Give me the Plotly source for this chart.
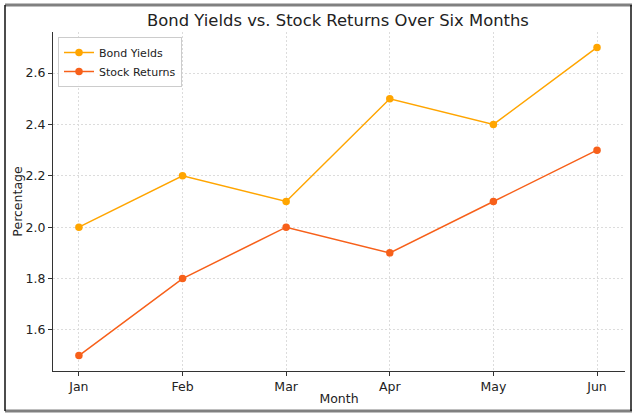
import plotly.graph_objects as go

months = ["Jan", "Feb", "Mar", "Apr", "May", "Jun"]
bond_yields = [2.0, 2.2, 2.1, 2.5, 2.4, 2.7]
stock_returns = [1.5, 1.8, 2.0, 1.9, 2.1, 2.3]
y_ticks = [1.6, 1.8, 2.0, 2.2, 2.4, 2.6]

W, H = 638, 418
L, R, T, B = 53, 13, 32, 47
pw, ph = W - L - R, H - T - B

def px(x):
    return (x - L) / pw

def py(y):
    return (H - B - y) / ph

fig = go.Figure()
fig.add_trace(go.Scatter(x=list(range(len(months))), y=bond_yields, name="Bond Yields",
                         mode="lines+markers", line=dict(color="#FFA500", width=1.5),
                         marker=dict(size=7.5, color="#FFA500")))
fig.add_trace(go.Scatter(x=list(range(len(months))), y=stock_returns, name="Stock Returns",
                         mode="lines+markers", line=dict(color="#F7601A", width=1.5),
                         marker=dict(size=7.5, color="#F7601A")))

grid = dict(showgrid=True, gridcolor="#dcdcdc", griddash="2px,2px", gridwidth=1,
            showline=True, linecolor="#333333", linewidth=1.2, ticks="outside",
            ticklen=4, tickcolor="#333333", zeroline=False, automargin=False,
            tickfont=dict(size=12.5))

fig.update_layout(
    width=W, height=H,
    margin=dict(l=L, r=R, t=T, b=B, autoexpand=False),
    paper_bgcolor="white", plot_bgcolor="white",
    font=dict(family="DejaVu Sans", color="#222222", size=12),
    title=dict(text="Bond Yields vs. Stock Returns Over Six Months", x=338 / W,
               xanchor="center", y=1 - 20 / H, yanchor="middle", font=dict(size=16.4)),
    xaxis=dict(range=[-0.25, 5.27], tickvals=list(range(len(months))), ticktext=months,
               title=dict(text="Month", standoff=1, font=dict(size=12.5)), **grid),
    yaxis=dict(range=[1.44, 2.76], tickvals=y_ticks, ticktext=[f"{v:.1f}" for v in y_ticks],
               title=dict(text="Percentage", standoff=0, font=dict(size=12.5)), **grid),
    legend=dict(x=px(58), y=py(37), xanchor="left", yanchor="top",
                bgcolor="rgba(255,255,255,0.85)", bordercolor="#cccccc", borderwidth=1,
                font=dict(size=11), tracegroupgap=0, itemwidth=30),
    showlegend=True,
)

# outer frame
fig.add_shape(type="line", xref="paper", yref="paper", x0=px(5), x1=px(632), y0=py(5), y1=py(5),
              line=dict(color="#808080", width=3))
fig.add_shape(type="line", xref="paper", yref="paper", x0=px(5), x1=px(632), y0=py(411), y1=py(411),
              line=dict(color="#808080", width=3))
fig.add_shape(type="line", xref="paper", yref="paper", x0=px(5), x1=px(5), y0=py(5), y1=py(411),
              line=dict(color="#111111", width=1.5))
fig.add_shape(type="line", xref="paper", yref="paper", x0=px(631), x1=px(631), y0=py(5), y1=py(411),
              line=dict(color="#111111", width=1.5))

fig.write_html("out.html", config={"displayModeBar": False},
               post_script="document.body.style.margin='0';")
